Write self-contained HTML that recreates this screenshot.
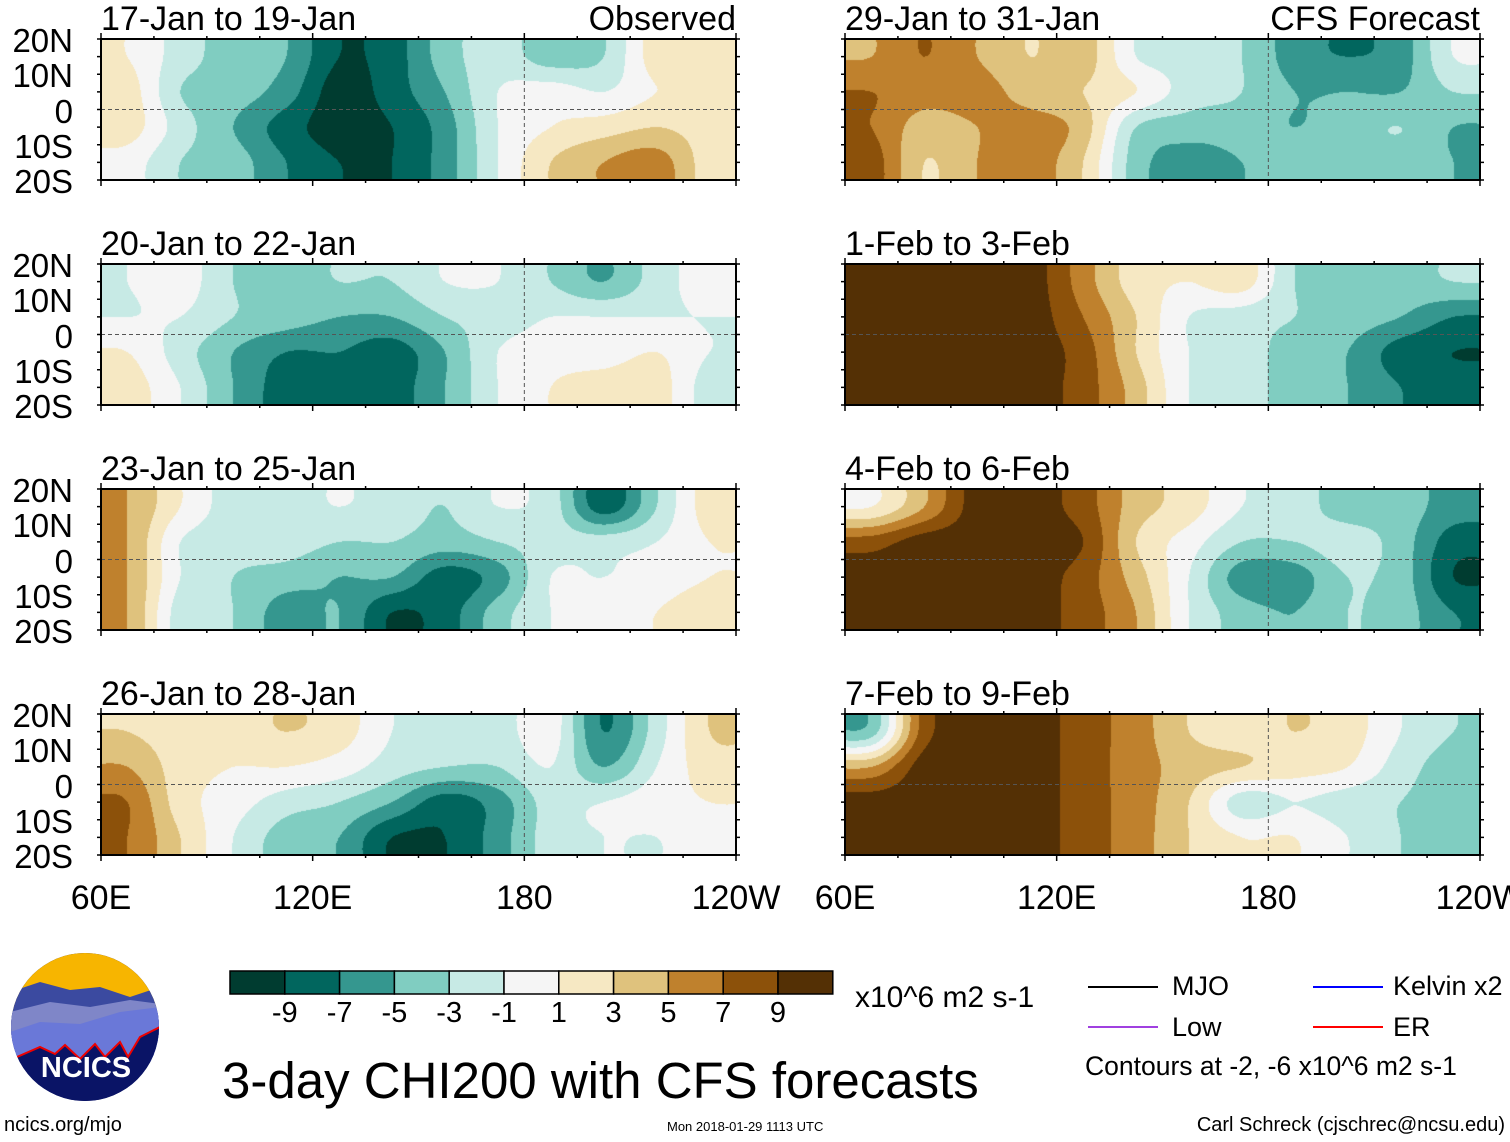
<!DOCTYPE html>
<html><head><meta charset="utf-8">
<style>
body{margin:0;background:#fff;width:1510px;height:1142px;position:relative;overflow:hidden;font-family:"Liberation Sans",Arial,sans-serif;color:#000}
.abs{position:absolute;white-space:nowrap}
canvas{position:absolute}
.ttl{font-size:34px;line-height:1}
.ylab{font-size:33px;line-height:1;text-align:right;width:73px}
.xlab{font-size:34px;line-height:1}
</style></head><body>
<svg id="overlay" class="abs" style="left:0;top:0" width="1510" height="1142"></svg>
<div id="labels"></div>

<svg class="abs" style="left:10px;top:952px" width="150" height="150">
<defs><clipPath id="lc"><circle cx="75" cy="75" r="74"/></clipPath></defs>
<g clip-path="url(#lc)">
<rect width="150" height="150" fill="#0a1466"/>
<rect width="150" height="60" fill="#f7b500"/>
<path d="M0 40 L30 30 L60 38 L90 35 L120 45 L150 35 L150 110 L0 110Z" fill="#3b4aa0"/>
<path d="M0 60 L40 50 L80 55 L120 48 L150 52 L150 110 L0 110Z" fill="#7f86c8"/>
<path d="M0 80 L30 70 L70 72 L110 60 L150 55 L150 110 L0 110Z" fill="#6a78d8"/>
<path d="M0 108 L30 95 L45 102 L55 93 L70 107 L85 92 L95 105 L110 90 L118 105 L130 85 L150 75 L150 150 L0 150Z" fill="#0a1466" stroke="#e00" stroke-width="2"/>
</g>
<text x="76" y="125" text-anchor="middle" fill="#fff" font-family="Liberation Sans" font-weight="bold" font-size="29">NCICS</text>
</svg>
<div class="abs" style="left:4px;top:1114px;font-size:20px">ncics.org/mjo</div>

<div class="abs" style="left:855px;top:981px;font-size:30px">x10^6 m2 s-1</div>
<div class="abs" style="left:222px;top:1051px;font-size:51px">3-day CHI200 with CFS forecasts</div>
<div class="abs" style="left:1172px;top:971px;font-size:27px">MJO</div>
<div class="abs" style="left:1393px;top:971px;font-size:27px">Kelvin x2</div>
<div class="abs" style="left:1172px;top:1012px;font-size:27px">Low</div>
<div class="abs" style="left:1393px;top:1012px;font-size:27px">ER</div>
<div class="abs" style="left:1085px;top:1051px;font-size:26.5px">Contours at -2, -6 x10^6 m2 s-1</div>
<div class="abs" style="left:667px;top:1119px;font-size:13px">Mon 2018-01-29 1113 UTC</div>
<div class="abs" style="right:5px;top:1114px;font-size:20px">Carl Schreck (cjschrec@ncsu.edu)</div>

<script>
const colors=["#003c30","#01665e","#35978f","#80cdc1","#c7eae5","#f5f5f5","#f6e8c3","#dfc27d","#bf812d","#8c510a","#543005"];
const cbLabels=["-9","-7","-5","-3","-1","1","3","5","7","9"];
const panelTitles=["17-Jan to 19-Jan","20-Jan to 22-Jan","23-Jan to 25-Jan","26-Jan to 28-Jan","29-Jan to 31-Jan","1-Feb to 3-Feb","4-Feb to 6-Feb","7-Feb to 9-Feb"];
const latLabels=["20N","10N","0","10S","20S"];
const lonLabels=["60E","120E","180","120W"];
const f0=[[1,-2,-4,-5,-9,-8,-4,-2,-4,-3,2,2],[2,-3,-4,-6,-10,-8,-5,-1,0,-1,1,1],[2,-2,-5,-8,-10,-9,-6,-1,1,2,3,2],[0,-3,-4,-7,-9,-9,-6,-1,3,5,6,2]];
const f1=[[-1,0,-3,-4,-3,-3,-1,-1,-3,-5,-2,0],[-1,-1,-3,-4,-5,-5,-3,-2,-1,-1,-1,-1],[1,-2,-5,-7,-7,-8,-5,-1,0,0,1,-1],[2,-1,-5,-8,-8,-8,-5,-1,1,2,2,-2]];
const f2=[[5,1,-2,-2,-1,-2,-3,-1,-2,-8,-3,2],[5,-1,-2,-2,-3,-3,-4,-3,-2,-2,-1,1],[5,-1,-3,-4,-5,-5,-8,-6,-1,-1,0,1],[5,-2,-3,-6,-5,-9,-8,-4,-1,0,1,2]];
const f3=[[3,2,2,3,2,-1,-2,-2,0,-7,-2,3],[5,2,1,1,0,-2,-3,-3,-1,-5,-1,2],[7,2,0,-2,-3,-5,-8,-6,-2,-1,0,1],[7,3,-1,-4,-5,-9,-9,-6,-2,-1,-1,0]];
const f4=[[5,7,5,3,4,-1,-2,-3,-6,-7,-6,-1],[7,6,6,4,3,1,-2,-3,-5,-5,-5,-3],[7,4,5,6,4,-3,-4,-4,-5,-4,-3,-5],[8,3,5,6,3,-4,-6,-5,-4,-4,-4,-5]];
const f5=[[10,10,10,10,6,2,1,2,-3,-4,-4,-3],[10,10,10,10,7,3,-1,-2,-3,-4,-5,-7],[10,10,10,10,8,3,-1,-2,-4,-5,-8,-9],[10,10,10,10,8,4,-1,-2,-4,-5,-7,-8]];
const f6=[[1,5,10,10,8,4,2,-1,-2,-4,-4,-6],[8,10,10,10,9,3,0,-3,-3,-2,-4,-8],[10,10,10,10,8,4,-1,-6,-6,-3,-4,-9],[10,10,10,10,8,5,-1,-4,-5,-3,-4,-7]];
const f7=[[-4,8,10,10,8,6,3,2,3,2,-1,-3],[5,10,10,10,8,6,4,3,2,1,-2,-4],[10,10,10,10,8,6,3,-2,-1,-2,-3,-4],[10,10,10,10,8,6,3,1,1,-1,-3,-4]];
const fields=[f0,f1,f2,f3,f4,f5,f6,f7];

const NS="http://www.w3.org/2000/svg";
const svg=document.getElementById('overlay');
const lab=document.getElementById('labels');
const colX=[101,845], rowY=[39,264,489,714], PW=635, PH=141;
function lonX(x0,lon){return x0+(lon-60)/180*PW;}
function latY(y0,lat){return y0+(20-lat)/40*PH;}
function rgb(h){return [parseInt(h.substr(1,2),16),parseInt(h.substr(3,2),16),parseInt(h.substr(5,2),16)];}
const crgb=colors.map(rgb);
function line(x1,y1,x2,y2,st,w,dash){const l=document.createElementNS(NS,'line');l.setAttribute('x1',x1);l.setAttribute('y1',y1);l.setAttribute('x2',x2);l.setAttribute('y2',y2);l.setAttribute('stroke',st);l.setAttribute('stroke-width',w);if(dash)l.setAttribute('stroke-dasharray',dash);svg.appendChild(l);return l;}
function div(cls,txt,left,top,name){const d=document.createElement('div');d.className='abs '+cls;d.textContent=txt;d.style.left=left+'px';d.style.top=top+'px';


lab.appendChild(d);return d;}
function cub(p0,p1,p2,p3,t){return p1+0.5*t*(p2-p0+t*(2*p0-5*p1+4*p2-p3+t*(3*(p1-p2)+p3-p0)));}
function samp(F,gx,gy){const nr=F.length,nc=F[0].length;
  const i=Math.floor(gx),j=Math.floor(gy),tx=gx-i,ty=gy-j;
  const g=(a,b)=>F[Math.max(0,Math.min(nr-1,a))][Math.max(0,Math.min(nc-1,b))];
  const rows=[];for(let m=-1;m<=2;m++)rows.push(cub(g(j+m,i-1),g(j+m,i),g(j+m,i+1),g(j+m,i+2),tx));
  return cub(rows[0],rows[1],rows[2],rows[3],ty);}
fields.forEach((F,p)=>{
  const c=Math.floor(p/4), r=p%4, x0=colX[c], y0=rowY[r];
  const cv=document.createElement('canvas');cv.width=PW;cv.height=PH;cv.style.left=x0+'px';cv.style.top=y0+'px';
  
  
  document.body.insertBefore(cv,svg);
  const ctx=cv.getContext('2d');const im=ctx.createImageData(PW,PH);
  const nc=F[0].length,nr=F.length;
  for(let y=0;y<PH;y++){const gy=(y+0.5)/PH*nr-0.5;
    for(let x=0;x<PW;x++){const gx=(x+0.5)/PW*nc-0.5;
      const v=samp(F,gx,gy);
      const k=Math.max(0,Math.min(10,Math.floor((v+11)/2)));const col=crgb[k];const o=(y*PW+x)*4;
      im.data[o]=col[0];im.data[o+1]=col[1];im.data[o+2]=col[2];im.data[o+3]=255;}}
  ctx.putImageData(im,0,0);
  line(x0,latY(y0,0),x0+PW,latY(y0,0),'#555',1,'4,3');
  line(lonX(x0,180),y0,lonX(x0,180),y0+PH,'#555',1,'4,3');
  const fr=document.createElementNS(NS,'rect');fr.setAttribute('x',x0);fr.setAttribute('y',y0);fr.setAttribute('width',PW);fr.setAttribute('height',PH);fr.setAttribute('fill','none');fr.setAttribute('stroke','#000');fr.setAttribute('stroke-width',2);
  
  
  svg.appendChild(fr);
  for(let lo=60;lo<=240;lo+=15){const X=lonX(x0,lo);const L=(lo%60==0)?6:3;line(X,y0-L,X,y0,'#000',1.5);line(X,y0+PH,X,y0+PH+L,'#000',1.5);}
  for(let la=-20;la<=20;la+=5){const Y=latY(y0,la);line(x0-4,Y,x0,Y,'#000',1.5);line(x0+PW,Y,x0+PW+4,Y,'#000',1.5);}
  div('ttl',panelTitles[p],x0,y0-37,'panel-title-'+(p+1));
  if(r==0){const t=div('ttl',p==0?'Observed':'CFS Forecast',0,y0-37,p==0?'observed-label':'forecast-label');t.style.left='';t.style.right=(1510-x0-PW)+'px';}
  if(c==0){latLabels.forEach((s,i)=>{div('ylab',s,0,latY(y0,20-i*10)-15,'lat-label');});}
  if(r==3){lonLabels.forEach((s,i)=>{const d=div('xlab',s,0,881,'lon-label');d.style.left=(lonX(x0,60+i*60))+'px';d.style.transform='translateX(-50%)';});}
});
const cbX=230,cbY=971,cbW=54.8,cbH=23;
colors.forEach((col,i)=>{const rc=document.createElementNS(NS,'rect');rc.setAttribute('x',cbX+i*cbW);rc.setAttribute('y',cbY);rc.setAttribute('width',cbW);rc.setAttribute('height',cbH);rc.setAttribute('fill',col);rc.setAttribute('stroke','#000');rc.setAttribute('stroke-width',1.5);


svg.appendChild(rc);});
cbLabels.forEach((s,i)=>{const d=div('',s,cbX+(i+1)*cbW,997,'colorbar-label');d.style.fontSize='29px';d.style.transform='translateX(-50%)';});
[[1088,987,'#000'],[1313,987,'#00f'],[1088,1027,'#a040e0'],[1313,1027,'#f00']].forEach(a=>{const l=line(a[0],a[1],a[0]+70,a[1],a[2],2);

});
</script>
</body></html>
